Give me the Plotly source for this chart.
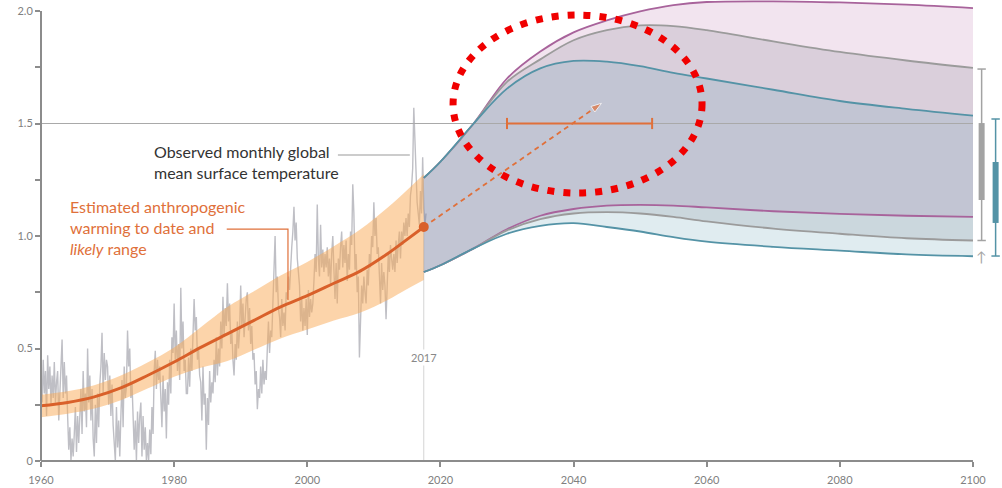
import plotly.graph_objects as go

# Observed global mean surface temperature change (°C), sampled every two months from 1960
obs_start = 1960
obs_temp = [
    0.38, 0.26, 0.45, 0.30, 0.40, 0.20,  0.47, 0.32, 0.42, 0.25, 0.38, 0.28,
    0.44, 0.26, 0.35, 0.40, 0.18, 0.30,  0.36, 0.54, 0.28, 0.44, 0.30, 0.38,
    0.20, 0.05, 0.15, 0.00, 0.10, 0.02,  0.12, 0.24, 0.04, 0.20, 0.08, 0.18,
    0.32, 0.12, 0.40, 0.22, 0.30, 0.15,  0.50, 0.26, 0.38, 0.18, 0.32, 0.10,
    0.02, 0.25, 0.08, 0.30, 0.15, 0.34,  0.42, 0.57, 0.30, 0.48, 0.36, 0.45,
    0.42, 0.25, 0.38, 0.20, 0.34, 0.16,  0.10, 0.00, 0.24, 0.06, 0.18, 0.02,
    0.20, 0.36, 0.15, 0.42, 0.28, 0.33,  0.58, 0.42, 0.50, 0.28, 0.35, 0.16,
    0.05, 0.18, 0.00, 0.22, 0.08, 0.20,  0.26, 0.02, 0.20, 0.05, 0.15, 0.00,
    0.08, 0.00, 0.14, 0.03, 0.24, 0.12,  0.40, 0.49, 0.32, 0.45, 0.36, 0.42,
    0.30, 0.15, 0.38, 0.22, 0.32, 0.10,  0.35, 0.25, 0.45, 0.30, 0.55, 0.48,
    0.70, 0.45, 0.58, 0.40, 0.52, 0.36,  0.77, 0.50, 0.62, 0.40, 0.45, 0.30,
    0.30, 0.46, 0.33, 0.50, 0.40, 0.56,  0.72, 0.58, 0.64, 0.45, 0.50, 0.38,
    0.35, 0.18, 0.42, 0.25, 0.30, 0.05,  0.28, 0.16, 0.40, 0.26, 0.35, 0.30,
    0.45, 0.35, 0.55, 0.38, 0.50, 0.42,  0.62, 0.50, 0.73, 0.55, 0.68, 0.60,
    0.79, 0.62, 0.70, 0.52, 0.58, 0.45,  0.38, 0.52, 0.45, 0.62, 0.50, 0.58,
    0.78, 0.60, 0.70, 0.55, 0.66, 0.72,  0.75, 0.58, 0.68, 0.52, 0.60, 0.45,
    0.48, 0.34, 0.40, 0.23, 0.32, 0.28,  0.42, 0.30, 0.45, 0.34, 0.40, 0.36,
    0.50, 0.62, 0.48, 0.58, 0.55, 0.70,  0.85, 1.00, 0.75, 0.82, 0.68, 0.64,
    0.55, 0.72, 0.60, 0.66, 0.58, 0.75,  0.72, 0.82, 0.76, 0.90, 0.95, 1.02,
    1.13, 0.98, 1.06, 0.90, 0.85, 0.78,  0.62, 0.72, 0.58, 0.68, 0.60, 0.72,
    0.56, 0.76, 0.64, 0.72, 0.66, 0.70,  0.80, 0.92, 0.84, 1.14, 0.90, 0.82,
    1.05, 0.86, 0.94, 0.84, 0.92, 0.86,  0.95, 0.82, 0.90, 0.78, 0.92, 1.00,
    0.85, 0.72, 0.88, 0.70, 0.90, 0.85,  0.95, 1.02, 0.86, 0.96, 0.88, 0.98,
    0.80, 0.92, 0.85, 1.02, 0.96, 1.23,  1.10, 0.85, 0.92, 0.75, 0.82, 0.46,
    0.62, 0.78, 0.70, 0.82, 0.75, 0.70,  0.85, 0.78, 0.92, 0.86, 1.00, 0.95,
    1.15, 1.00, 1.08, 0.92, 0.95, 0.85,  0.70, 0.88, 0.76, 0.84, 0.78, 0.63,
    0.80, 0.92, 0.84, 0.96, 0.90, 0.85,  0.92, 0.84, 0.98, 0.88, 0.96, 1.02,
    0.90, 1.02, 0.96, 1.06, 1.00, 1.08,  1.00, 1.10, 1.04, 1.18, 1.22, 1.30,
    1.57, 1.40, 1.30, 1.15, 1.10, 1.05,  1.20, 1.10, 1.35, 1.12, 1.05, 1.10,
]
obs_time = [obs_start + i / 6 for i in range(len(obs_temp))]

# Estimated anthropogenic warming to date with likely range
ant_years = [1960, 1964, 1968, 1972, 1976, 1980, 1984, 1988, 1992, 1996, 2000, 2004, 2008, 2012, 2015, 2017.5]
ant_mid = [0.245, 0.26, 0.285, 0.325, 0.38, 0.44, 0.505, 0.565, 0.625, 0.685, 0.735, 0.79, 0.845, 0.92, 0.985, 1.04]
ant_lo = [0.195, 0.21, 0.233, 0.27, 0.322, 0.375, 0.415, 0.445, 0.495, 0.545, 0.585, 0.625, 0.66, 0.715, 0.765, 0.805]
ant_hi = [0.295, 0.31, 0.337, 0.38, 0.438, 0.505, 0.595, 0.685, 0.755, 0.825, 0.885, 0.955, 1.03, 1.125, 1.205, 1.275]

# Projected pathway ranges
proj_years = [2017.5, 2020, 2025, 2030, 2035, 2040, 2045, 2050, 2055, 2060, 2070, 2080, 2090, 2100]
teal_hi = [1.258, 1.33, 1.50, 1.655, 1.745, 1.778, 1.775, 1.755, 1.725, 1.70, 1.65, 1.60, 1.565, 1.535]
teal_lo = [0.84, 0.87, 0.945, 1.01, 1.045, 1.057, 1.04, 1.02, 0.995, 0.975, 0.952, 0.935, 0.918, 0.91]
gray_hi = [1.258, 1.33, 1.50, 1.685, 1.785, 1.87, 1.915, 1.936, 1.933, 1.915, 1.865, 1.818, 1.78, 1.747]
gray_lo = [0.84, 0.87, 0.945, 1.025, 1.075, 1.10, 1.106, 1.10, 1.085, 1.065, 1.033, 1.01, 0.99, 0.98]
purple_hi = [1.258, 1.33, 1.50, 1.70, 1.82, 1.905, 1.958, 1.998, 2.026, 2.04, 2.043, 2.038, 2.028, 2.013]
purple_lo = [0.84, 0.87, 0.945, 1.03, 1.09, 1.12, 1.135, 1.138, 1.135, 1.127, 1.11, 1.098, 1.09, 1.085]

# 2100 ranges (whisker ends, box ends)
gray_whisker = [0.98, 1.742]
gray_box = [1.16, 1.502]
teal_whisker = [0.911, 1.52]
teal_box = [1.058, 1.329]

# Current-rate extrapolation and 1.5 °C crossing window
now_year, now_temp = 2017.5, 1.04
trend_end = [2044.2, 1.59]
cross_window = [2030, 2051.8]
limit = 1.5

TEAL = "#5493a6"
GRAY = "#9b9b9b"
PURPLE = "#a8639b"
ORANGE = "#d9602a"
LIGHT_ORANGE = "#e0703a"
AXIS = "#8c8c8c"
FONT = "Lato"

fig = go.Figure()

# 2017 marker line
fig.add_trace(go.Scatter(x=[now_year, now_year], y=[0, now_temp], mode="lines",
                         line=dict(color="#d4d4d4", width=1), hoverinfo="skip"))

# observed series
fig.add_trace(go.Scatter(x=obs_time, y=obs_temp, mode="lines",
                         line=dict(color="#bfbfc5", width=1.4)))

# anthropogenic likely range
fig.add_trace(go.Scatter(x=ant_years, y=ant_lo, mode="lines", line=dict(width=0, shape="spline"),
                         hoverinfo="skip"))
fig.add_trace(go.Scatter(x=ant_years, y=ant_hi, mode="lines", line=dict(width=0, shape="spline"),
                         fill="tonexty", fillcolor="rgba(250,170,85,0.5)", hoverinfo="skip"))

# projection fans
for lo, hi, fc in [(purple_lo, purple_hi, "rgba(190,120,175,0.2)"),
                   (gray_lo, gray_hi, "rgba(110,110,130,0.18)"),
                   (teal_lo, teal_hi, "rgba(100,160,180,0.2)")]:
    fig.add_trace(go.Scatter(x=proj_years, y=lo, mode="lines", line=dict(width=0, shape="spline"),
                             hoverinfo="skip"))
    fig.add_trace(go.Scatter(x=proj_years, y=hi, mode="lines", line=dict(width=0, shape="spline"),
                             fill="tonexty", fillcolor=fc, hoverinfo="skip"))

# 1.5 °C reference line
fig.add_trace(go.Scatter(x=[1960, 2100], y=[limit, limit], mode="lines",
                         line=dict(color="#a9a9a9", width=1), hoverinfo="skip"))

# projection boundary lines
for series, col in [(purple_hi, PURPLE), (purple_lo, PURPLE), (gray_hi, GRAY), (gray_lo, GRAY),
                    (teal_hi, TEAL), (teal_lo, TEAL)]:
    fig.add_trace(go.Scatter(x=proj_years, y=series, mode="lines",
                             line=dict(color=col, width=1.8, shape="spline")))

# anthropogenic central estimate
fig.add_trace(go.Scatter(x=ant_years, y=ant_mid, mode="lines",
                         line=dict(color=ORANGE, width=3, shape="spline")))

# extrapolated trend with arrow head
fig.add_trace(go.Scatter(x=[now_year, trend_end[0]], y=[now_temp, trend_end[1]], mode="lines+markers",
                         line=dict(color=LIGHT_ORANGE, width=1.8, dash="5px,4px"),
                         marker=dict(symbol="arrow", size=[0, 11], angleref="previous",
                                     color=LIGHT_ORANGE)))

# crossing window
fig.add_trace(go.Scatter(x=cross_window, y=[limit, limit], mode="lines+markers",
                         line=dict(color=LIGHT_ORANGE, width=2),
                         marker=dict(symbol="line-ns", size=8, line=dict(width=2, color=LIGHT_ORANGE))))

# present-day point
fig.add_trace(go.Scatter(x=[now_year], y=[now_temp], mode="markers",
                         marker=dict(color=ORANGE, size=10)))

# 2100 whiskers
for xw, whisk, box, col in [(2101.3, gray_whisker, gray_box, "#a3a3a3"),
                            (2103.4, teal_whisker, teal_box, TEAL)]:
    fig.add_trace(go.Scatter(x=[xw, xw], y=whisk, mode="lines+markers",
                             line=dict(color=col, width=1.5),
                             marker=dict(symbol="line-ew", size=6, line=dict(width=1.5, color=col))))
    fig.add_trace(go.Scatter(x=[xw, xw], y=box, mode="lines", line=dict(color=col, width=6)))

shapes = [
    # axis lines
    dict(type="line", xref="paper", yref="y", x0=0, x1=0, y0=0, y1=2.0,
         line=dict(color=AXIS, width=2)),
    dict(type="line", xref="x", yref="paper", x0=1960, x1=2100, y0=0, y1=0,
         line=dict(color=AXIS, width=2)),
    # annotation leaders
    dict(type="line", xref="x", yref="y", x0=2004.6, x1=2015.4, y0=1.36, y1=1.36,
         line=dict(color="#9a9a9a", width=1.2)),
    dict(type="path", xref="x", yref="y", path="M 1987.9,1.031 L 1997.1,1.031 L 1997.1,0.716",
         line=dict(color=LIGHT_ORANGE, width=1.2)),
    # highlighted region
    dict(type="circle", xref="x", yref="y", x0=2021.9, x1=2059.3, y0=1.191, y1=1.982,
         line=dict(color="#f00000", width=7, dash="7px,9px"), layer="above"),
]

annotations = [
    dict(x=1976.67, y=1.331, xref="x", yref="y", xanchor="left", yanchor="middle", align="left",
         showarrow=False, text="Observed monthly global<br>mean surface temperature",
         font=dict(family=FONT, size=16, color="#333333")),
    dict(x=1964.06, y=1.0356, xref="x", yref="y", xanchor="left", yanchor="middle", align="left",
         showarrow=False, text="Estimated anthropogenic<br>warming to date and<br><i>likely</i> range",
         font=dict(family=FONT, size=16, color=LIGHT_ORANGE)),
    dict(x=now_year, y=0.462, xref="x", yref="y", showarrow=False, text="2017",
         bgcolor="white", font=dict(family=FONT, size=11, color="#888888")),
    dict(x=2101.3, y=0.91, xref="x", yref="y", showarrow=False, text="↑",
         font=dict(family=FONT, size=14, color="#a3a3a3")),
]

fig.update_layout(
    width=1002, height=488,
    margin=dict(l=41, r=0, t=0, b=27),
    paper_bgcolor="white", plot_bgcolor="white",
    showlegend=False,
    shapes=shapes, annotations=annotations,
    xaxis=dict(range=[1960, 2104.36], showgrid=False, zeroline=False, showline=False,
               tickvals=[1960, 1980, 2000, 2020, 2040, 2060, 2080, 2100],
               ticks="outside", ticklen=5, tickwidth=1.5, tickcolor=AXIS, ticklabelstandoff=4,
               tickfont=dict(family=FONT, size=11, color="#808080")),
    yaxis=dict(range=[0, 2.0489], showgrid=False, zeroline=False, showline=False,
               tickvals=[0, 0.25, 0.5, 0.75, 1.0, 1.25, 1.5, 1.75, 2.0],
               ticktext=["0", "", "0.5", "", "1.0", "", "1.5", "", "2.0"],
               ticks="outside", ticklen=5, tickwidth=1.5, tickcolor=AXIS,
               tickfont=dict(family=FONT, size=11, color="#808080")),
)

fig.write_html("out.html")
